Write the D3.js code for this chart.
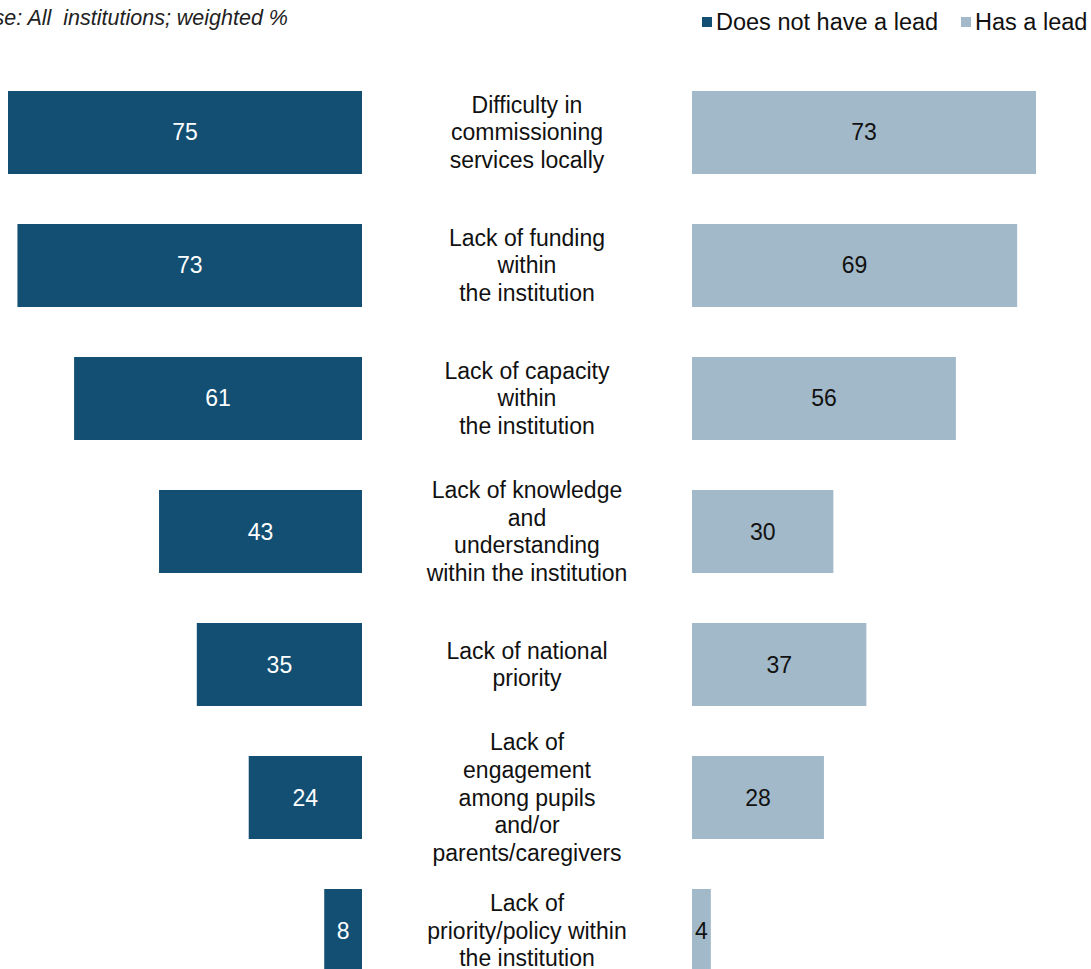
<!DOCTYPE html>
<html><head><meta charset="utf-8">
<script src="https://cdn.jsdelivr.net/npm/d3@7"></script>
<style>body{margin:0;background:#fff}svg{display:block;font-family:"Liberation Sans",Arial,sans-serif}</style>
</head><body>
<svg id="c" width="1091" height="969"></svg>
<script>
const categories = [
  ["Difficulty in","commissioning","services locally"],
  ["Lack of funding","within","the institution"],
  ["Lack of capacity","within","the institution"],
  ["Lack of knowledge","and","understanding","within the institution"],
  ["Lack of national","priority"],
  ["Lack of","engagement","among pupils","and/or","parents/caregivers"],
  ["Lack of","priority/policy within","the institution"]
];
const noLead = [75, 73, 61, 43, 35, 24, 8];
const hasLead = [73, 69, 56, 30, 37, 28, 4];
const seriesNames = ["Does not have a lead", "Has a lead"];
const colors = ["#124F73", "#A2B9C9"];

const svg = d3.select("#c");
const y = d3.scaleBand().domain(d3.range(categories.length)).range([64.4, 998.6]).paddingInner(0.376).paddingOuter(0.2);
const xL = d3.scaleLinear().domain([0, 75]).range([362, 8]);
const xR = d3.scaleLinear().domain([0, 73]).range([692, 1036]);

// subtitle
svg.append("text").attr("x", 288).attr("y", 25).attr("text-anchor", "end")
  .attr("font-style", "italic").attr("font-size", 21.5).attr("fill", "#222")
  .attr("xml:space", "preserve").text("Base: All  institutions; weighted %");

// legend
const leg = [{x: 702, t: seriesNames[0], c: colors[0]}, {x: 961, t: seriesNames[1], c: colors[1]}];
leg.forEach(d => {
  svg.append("rect").attr("x", d.x).attr("y", 17).attr("width", 10).attr("height", 10).attr("fill", d.c);
  svg.append("text").attr("x", d.x + 14).attr("y", 30).attr("font-size", 23.5).attr("fill", "#111").text(d.t);
});

// left bars
svg.selectAll(".bl").data(noLead).join("rect")
  .attr("x", d => xL(d)).attr("y", (d, i) => y(i))
  .attr("width", d => xL(0) - xL(d)).attr("height", y.bandwidth()).attr("fill", colors[0]);
svg.selectAll(".tl").data(noLead).join("text")
  .attr("x", d => (xL(d) + xL(0)) / 2).attr("y", (d, i) => y(i) + y.bandwidth() / 2 + 8)
  .attr("text-anchor", "middle").attr("font-size", 23).attr("fill", "#fff").text(d => d);

// right bars
svg.selectAll(".br").data(hasLead).join("rect")
  .attr("x", xR(0)).attr("y", (d, i) => y(i))
  .attr("width", d => xR(d) - xR(0)).attr("height", y.bandwidth()).attr("fill", colors[1]);
svg.selectAll(".tr").data(hasLead).join("text")
  .attr("x", d => (xR(d) + xR(0)) / 2).attr("y", (d, i) => y(i) + y.bandwidth() / 2 + 8)
  .attr("text-anchor", "middle").attr("font-size", 23).attr("fill", "#111").text(d => d);

// category labels
categories.forEach((lines, i) => {
  const cy = y(i) + y.bandwidth() / 2;
  const lh = 27.7;
  const t = svg.append("text").attr("text-anchor", "middle").attr("font-size", 23).attr("fill", "#111");
  lines.forEach((l, k) => {
    t.append("tspan").attr("x", 527).attr("y", cy + (k - (lines.length - 1) / 2) * lh + 8).text(l);
  });
});
</script>
</body></html>
